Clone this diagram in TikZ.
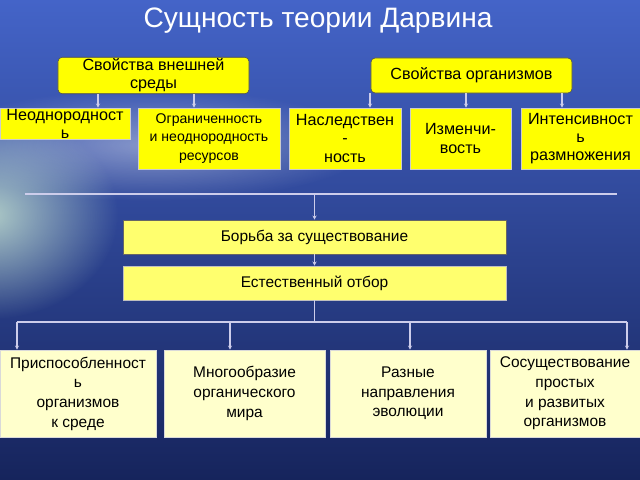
\documentclass[tikz,border=0pt]{standalone}
\usepackage{fontspec}
\setmainfont{Liberation Sans}
\usetikzlibrary{arrows.meta,positioning,calc,fadings}
\definecolor{skytop}{RGB}{68,100,200}
\definecolor{seamid}{RGB}{58,94,172}
\definecolor{seabot}{RGB}{22,36,92}
\definecolor{glowcol}{RGB}{205,235,210}
\definecolor{boxyellow}{RGB}{255,255,0}
\definecolor{paleyellow}{RGB}{255,255,110}
\definecolor{creamyellow}{RGB}{255,255,204}
\definecolor{linecol}{RGB}{205,205,235}
\tikzfading[name=glowfade, inner color=transparent!20, outer color=transparent!100]

\begin{document}
\begin{tikzpicture}[x=0.025cm,y=-0.025cm]
\tikzstyle{topbox} = [draw=black!70, fill=boxyellow, rounded corners=3pt, align=center, inner sep=1pt, font=\fontsize{11.5}{13}\selectfont]
\tikzstyle{propbox} = [draw=gray!40, fill=boxyellow, align=center, inner sep=1pt, minimum height=1.525cm, font=\fontsize{11.5}{13}\selectfont]
\tikzstyle{mainbox} = [draw=black!60, fill=paleyellow, minimum width=9.575cm, minimum height=0.85cm, font=\fontsize{11}{13}\selectfont]
\tikzstyle{resbox} = [draw=gray!30, fill=creamyellow, align=center, inner sep=1pt, minimum height=2.175cm, font=\fontsize{11}{14}\selectfont]
\tikzstyle{rail} = [draw=linecol, line width=0.8pt]
\tikzstyle{conn} = [rail, -{Stealth[length=3pt,width=3pt]}]
\useasboundingbox (0,0) rectangle (640,480);
% sky and sea
\shade[top color=skytop, middle color=seamid, bottom color=seabot] (0,0) rectangle (640,480);
\fill[white, opacity=0.5, path fading=glowfade] (150,145) ellipse (5.5cm and 1.4cm);
\fill[glowcol, path fading=glowfade] (-10,215) ellipse (3.2cm and 2.6cm);

\node[text=white, font=\fontsize{20}{24}\selectfont] (title) at (318,21) {Сущность теории Дарвина};

% two sources
\node[topbox, minimum width=4.775cm, minimum height=0.875cm] (env) at (153.5,75.5) {Свойства внешней\\среды};
\node[topbox, minimum width=5.025cm, minimum height=0.875cm] (org) at (471.5,75.5) {Свойства организмов};

\node[propbox, minimum width=3.25cm, minimum height=0.775cm, label={[align=center, anchor=north, inner sep=1pt, font=\fontsize{11.5}{13}\selectfont]north:Неоднородност\\ь}] (neod) at (65,123.5) {};
\node[propbox, minimum width=3.55cm, font=\fontsize{10}{13}\selectfont] (ogran) at (209,138.5) {Ограниченность\\и неоднородность\\ресурсов};
\node[propbox, minimum width=2.8cm] (nasl) at (345,138.5) {Наследствен\\-\\ность};
\node[propbox, minimum width=2.525cm] (izm) at (460.5,138.5) {Изменчи-\\вость};
\node[propbox, minimum width=2.975cm] (intens) at (580.5,138.5) {Интенсивност\\ь\\размножения};

\draw[conn] (env.south -| 98,0) -- (neod.north -| 98,0);
\draw[conn] (env.south -| 194,0) -- (ogran.north -| 194,0);
\draw[conn] (org.south -| 370,0) -- (nasl.north -| 370,0);
\draw[conn] (org.south -| 466,0) -- (izm.north -| 466,0);
\draw[conn] (org.south -| 562,0) -- (intens.north -| 562,0);

% struggle and selection
\coordinate (railL) at (25,194);
\coordinate (railR) at (617,194);
\node[mainbox] (borba) at (314.5,237) {Борьба за существование};
\node[mainbox, draw=gray!50] (otbor) at (314.5,283) {Естественный отбор};
\draw[rail] (railL) -- (railR);
\draw[conn] (railL -| borba.north) -- (borba.north);
\draw[conn] (borba.south) -- (otbor.north);

% results
\node[resbox, minimum width=3.9cm] (adapt) at (78,393.5) {Приспособленност\\ь\\организмов\\к среде};
\node[resbox, minimum width=4.025cm] (diverse) at (244.5,393.5) {Многообразие\\органического\\мира};
\node[resbox, minimum width=3.9cm] (paths) at (408,393.5) {Разные\\направления\\эволюции};
\node[resbox, minimum width=3.75cm] (coexist) at (565,393.5) {Сосуществование\\простых\\и развитых\\организмов};

\coordinate (forkL) at (17,322);
\coordinate (forkR) at (627,322);
\draw[rail] (otbor.south) -- (otbor.south |- forkL);
\draw[rail] (forkL) -- (forkR);
\draw[conn] (forkL) -- (forkL |- adapt.north);
\draw[conn] (forkL -| 230,0) -- (diverse.north -| 230,0);
\draw[conn] (forkL -| 410,0) -- (paths.north -| 410,0);
\draw[conn] (forkR) -- (forkR |- coexist.north);
\end{tikzpicture}
\end{document}
